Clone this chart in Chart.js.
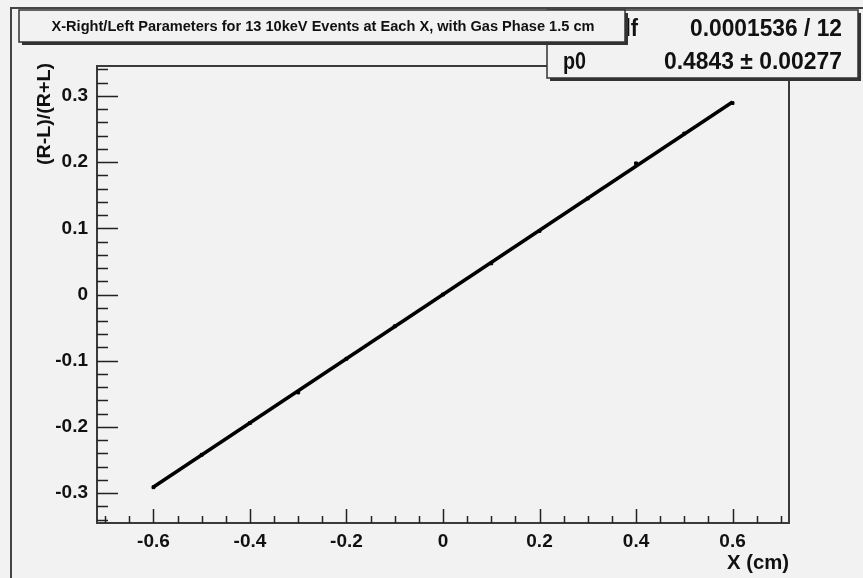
<!DOCTYPE html>
<html>
<head>
<meta charset="utf-8">
<script src="https://cdn.jsdelivr.net/npm/chart.js@4.4.0/dist/chart.umd.min.js"></script>
<style>
  html, body { margin: 0; padding: 0; background: #f2f2f2; }
</style>
</head>
<body>
<canvas id="lineChart" width="863" height="578"></canvas>
<script>
// measured points, one per X position (cm)
var xValues = [-0.6, -0.5, -0.4, -0.3, -0.2, -0.1, 0.0, 0.1, 0.2, 0.3, 0.4, 0.5, 0.6];
var yValues = [-0.291, -0.242, -0.194, -0.148, -0.097, -0.048, 0.000, 0.047, 0.096, 0.145, 0.198, 0.243, 0.289];

// fitted line p0 * x
var fitX = [-0.6, 0.6];
var fitY = [-0.2906, 0.2906];

var xTicks = [-0.6, -0.4, -0.2, 0, 0.2, 0.4, 0.6];
var yTicks = [-0.3, -0.2, -0.1, 0, 0.1, 0.2, 0.3];

var titleText = "X-Right/Left Parameters for 13 10keV Events at Each X, with Gas Phase 1.5 cm";
var statsRow1 = ["\u03C7\u00B2 / ndf", "0.0001536 / 12"];
var statsRow2 = ["p0", "0.4843 \u00B1 0.00277"];

var FONT = "'Liberation Sans', Arial, sans-serif";
var BG = '#f2f2f2';

function fitText(ctx, txt, x, y, w, align, font) {
    ctx.save();
    ctx.font = font;
    var m = ctx.measureText(txt).width;
    var s = w / m;
    ctx.textBaseline = 'middle';
    ctx.textAlign = 'left';
    var x0 = align === 'right' ? x - w : (align === 'center' ? x - w / 2 : x);
    ctx.translate(x0, y);
    ctx.scale(s, 1);
    ctx.fillText(txt, 0, 0);
    ctx.restore();
}

function shadowBox(ctx, x, y, w, h) {
    ctx.fillStyle = '#333';
    ctx.fillRect(x + 3, y + 3, w, h);
    ctx.fillStyle = BG;
    ctx.fillRect(x, y, w, h);
    ctx.strokeStyle = '#333';
    ctx.lineWidth = 1.5;
    ctx.strokeRect(x, y, w, h);
}

var rootStyle = {
    id: 'rootStyle',
    beforeDraw: function (chart) {
        var ctx = chart.ctx;
        ctx.save();
        ctx.fillStyle = BG;
        ctx.fillRect(0, 0, chart.width, chart.height);
        ctx.strokeStyle = '#444';
        ctx.lineWidth = 2;
        ctx.beginPath();
        ctx.moveTo(11, chart.height);
        ctx.lineTo(11, 8);
        ctx.lineTo(chart.width, 8);
        ctx.stroke();
        ctx.restore();
    },
    afterDraw: function (chart) {
        var ctx = chart.ctx;
        var a = chart.chartArea;
        var xs = chart.scales.x, ys = chart.scales.y;
        ctx.save();

        // frame
        ctx.strokeStyle = '#3a3a3a';
        ctx.lineWidth = 2;
        ctx.strokeRect(a.left, a.top, a.right - a.left, a.bottom - a.top);

        // ticks inside the frame
        ctx.strokeStyle = '#222';
        ctx.lineWidth = 1.5;
        ctx.beginPath();
        var v, p, i;
        for (i = -14; i <= 14; i++) {
            v = i * 0.05;
            p = Math.round(xs.getPixelForValue(v)) + 0.5;
            if (p < a.left + 1 || p > a.right - 1) continue;
            var len = (i % 4 === 0) ? 14 : 7;
            ctx.moveTo(p, a.bottom);
            ctx.lineTo(p, a.bottom - len);
        }
        for (i = -17; i <= 17; i++) {
            v = i * 0.02;
            p = Math.round(ys.getPixelForValue(v)) + 0.5;
            if (p < a.top + 1 || p > a.bottom - 1) continue;
            var len2 = (i % 5 === 0) ? 21 : 11;
            ctx.moveTo(a.left, p);
            ctx.lineTo(a.left + len2, p);
        }
        ctx.stroke();

        // axis titles
        ctx.fillStyle = '#111';
        fitText(ctx, 'X (cm)', a.right, 563, 62, 'right', 'bold 20px ' + FONT);
        ctx.save();
        ctx.translate(45, 63);
        ctx.rotate(-Math.PI / 2);
        fitText(ctx, '(R-L)/(R+L)', 0, 0, 102, 'right', 'bold 19px ' + FONT);
        ctx.restore();

        // stats box
        shadowBox(ctx, 547, 10, 311, 68);
        ctx.fillStyle = '#111';
        fitText(ctx, statsRow1[0], 638, 30, 72, 'right', 'bold 23px ' + FONT);
        fitText(ctx, statsRow1[1], 842, 30, 152, 'right', 'bold 23px ' + FONT);
        fitText(ctx, statsRow2[0], 563, 63, 23, 'left', 'bold 23px ' + FONT);
        fitText(ctx, statsRow2[1], 842, 63, 178, 'right', 'bold 23px ' + FONT);

        // title box
        shadowBox(ctx, 19, 10, 606, 32);
        ctx.fillStyle = '#111';
        fitText(ctx, titleText, 323, 27, 543, 'center', 'bold 14px ' + FONT);

        ctx.restore();
    }
};

var pointData = xValues.map(function (x, i) { return {x: x, y: yValues[i]}; });
var fitData = fitX.map(function (x, i) { return {x: x, y: fitY[i]}; });

var tickFont = {family: FONT, size: 19, weight: 'bold'};

var ctx = document.getElementById("lineChart").getContext("2d");
new Chart(ctx, {
    type: 'line',
    data: {
        datasets: [
            {
                label: 'fit',
                data: fitData,
                borderColor: '#000',
                borderWidth: 3.5,
                pointRadius: 0,
                tension: 0,
                fill: false
            },
            {
                type: 'scatter',
                label: 'data',
                data: pointData,
                pointStyle: 'rect',
                pointRadius: 2,
                backgroundColor: '#000',
                borderColor: '#000',
                borderWidth: 1,
                showLine: false
            }
        ]
    },
    options: {
        responsive: false,
        animation: false,
        devicePixelRatio: 1,
        layout: {padding: {left: 0, right: 74, top: 66, bottom: 0}},
        plugins: {legend: {display: false}, tooltip: {enabled: false}},
        scales: {
            x: {
                type: 'linear',
                min: -0.717,
                max: 0.717,
                grid: {display: false, drawTicks: false},
                border: {display: false},
                afterBuildTicks: function (s) { s.ticks = xTicks.map(function (v) { return {value: v}; }); },
                afterFit: function (s) { s.height = 55; },
                ticks: {
                    font: tickFont, color: '#111', padding: 7,
                    autoSkip: false, maxRotation: 0,
                    callback: function (v) { return String(+v.toFixed(2)); }
                }
            },
            y: {
                type: 'linear',
                min: -0.345,
                max: 0.345,
                grid: {display: false, drawTicks: false},
                border: {display: false},
                afterBuildTicks: function (s) { s.ticks = yTicks.map(function (v) { return {value: v}; }); },
                afterFit: function (s) { s.width = 97; },
                ticks: {
                    font: tickFont, color: '#111', padding: 9,
                    autoSkip: false,
                    callback: function (v) { return String(+v.toFixed(2)); }
                }
            }
        }
    },
    plugins: [rootStyle]
});
</script>
</body>
</html>
